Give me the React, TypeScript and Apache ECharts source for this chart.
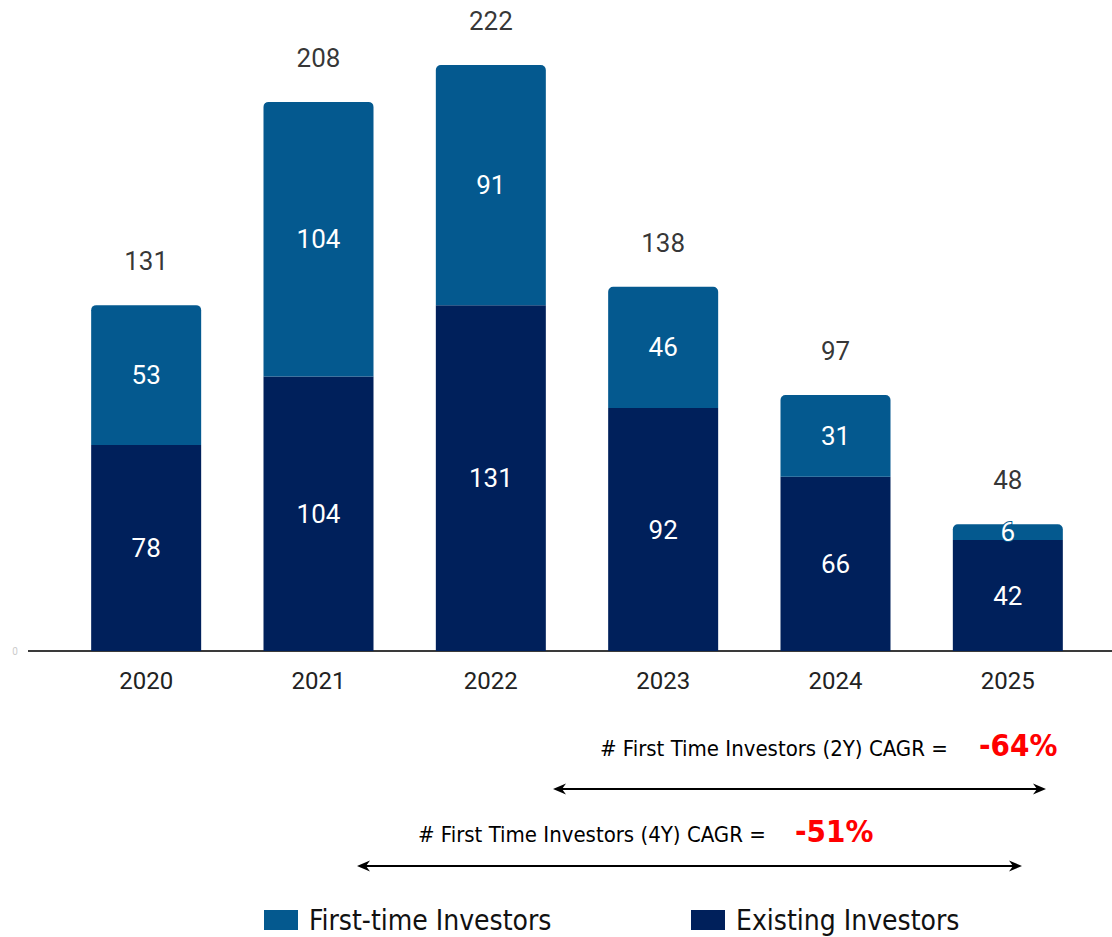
import React, { useEffect, useRef } from "react";
import * as echarts from "echarts";

const categories = ["2020", "2021", "2022", "2023", "2024", "2025"];
const existingInvestors = [78, 104, 131, 92, 66, 42];
const firstTimeInvestors = [53, 104, 91, 46, 31, 6];
const totals = [131, 208, 222, 138, 97, 48];
const seriesNames = ["First-time Investors", "Existing Investors"];
const cagr2Label = "# First Time Investors (2Y) CAGR =";
const cagr2Value = "-64%";
const cagr4Label = "# First Time Investors (4Y) CAGR =";
const cagr4Value = "-51%";

const COLOR_FIRST = "#04598F";
const COLOR_EXIST = "#00205B";
const NARROW = "'Liberation Sans Narrow', 'DejaVu Sans Condensed', 'Noto Sans', sans-serif";

function arrow(x1: number, x2: number, y: number) {
  const h = 13, w = 5.5, notch = 4;
  return [
    { type: "line", shape: { x1: x1 + 4, y1: y, x2: x2 - 4, y2: y }, style: { stroke: "#000", lineWidth: 2 } },
    {
      type: "polygon",
      shape: { points: [[x1, y], [x1 + h, y - w], [x1 + h - notch, y], [x1 + h, y + w]] },
      style: { fill: "#000" },
    },
    {
      type: "polygon",
      shape: { points: [[x2, y], [x2 - h, y - w], [x2 - h + notch, y], [x2 - h, y + w]] },
      style: { fill: "#000" },
    },
  ];
}

export default function App() {
  const ref = useRef<HTMLDivElement>(null);
  useEffect(() => {
    if (!ref.current) return;
    const chart = echarts.init(ref.current, null, { renderer: "svg" });
    const insideLabel = (border: string) => ({
      show: true,
      position: "inside",
      color: "#fff",
      fontSize: 26,
      fontFamily: "Roboto, sans-serif",
      textBorderColor: border,
      textBorderWidth: 2,
    });
    chart.setOption({
      animation: false,
      backgroundColor: "#fff",
      grid: { left: 60, right: 18, top: 17.4, bottom: 286, containLabel: false },
      xAxis: {
        type: "category",
        data: categories,
        axisLine: { show: false },
        axisTick: { show: false },
        axisLabel: { color: "#222", fontSize: 24, fontFamily: "Roboto, sans-serif", margin: 18 },
      },
      yAxis: {
        type: "value",
        min: 0,
        max: 240,
        show: false,
        splitLine: { show: false },
      },
      legend: [
        {
          data: [seriesNames[0]],
          left: 264,
          top: 906,
          padding: 0,
          itemWidth: 34,
          itemHeight: 20,
          icon: "rect",
          textStyle: { fontSize: 28, color: "#111", fontFamily: NARROW, padding: [0, 0, 0, 6] },
        },
        {
          data: [seriesNames[1]],
          left: 691,
          top: 906,
          padding: 0,
          itemWidth: 34,
          itemHeight: 20,
          icon: "rect",
          textStyle: { fontSize: 28, color: "#111", fontFamily: NARROW, padding: [0, 0, 0, 6] },
        },
      ],
      series: [
        {
          name: seriesNames[1],
          type: "bar",
          stack: "total",
          barWidth: 110,
          data: existingInvestors,
          itemStyle: { color: COLOR_EXIST },
          label: insideLabel(COLOR_EXIST),
        },
        {
          name: seriesNames[0],
          type: "bar",
          stack: "total",
          barWidth: 110,
          data: firstTimeInvestors,
          itemStyle: { color: COLOR_FIRST, borderRadius: [5, 5, 0, 0] },
          label: insideLabel(COLOR_FIRST),
        },
        {
          name: "Total",
          type: "scatter",
          symbolSize: 0,
          silent: true,
          data: totals,
          label: {
            show: true,
            position: "inside",
            offset: [0, -44],
            color: "#000",
            fontSize: 26,
            fontWeight: "normal",
            fontFamily: "Roboto, sans-serif",
            textBorderColor: "#fff",
            textBorderWidth: 3,
          },
        },
      ],
      graphic: [
        { type: "line", shape: { x1: 28, y1: 651, x2: 1112, y2: 651 }, style: { stroke: "#3a3a3a", lineWidth: 2 } },
        {
          type: "text",
          x: 15,
          y: 651,
          style: { text: "0", fill: "#ccc", fontSize: 10, align: "center", verticalAlign: "middle", fontFamily: "Roboto, sans-serif" },
        },
        {
          type: "text",
          x: 600,
          y: 748,
          style: { text: cagr2Label, fill: "#000", fontSize: 22, fontFamily: NARROW, align: "left", verticalAlign: "middle" },
        },
        {
          type: "text",
          x: 979,
          y: 745,
          style: { text: cagr2Value, fill: "#FF0000", fontSize: 31, fontWeight: "bold", fontFamily: NARROW, align: "left", verticalAlign: "middle" },
        },
        ...arrow(553, 1046, 789),
        {
          type: "text",
          x: 418,
          y: 834,
          style: { text: cagr4Label, fill: "#000", fontSize: 22, fontFamily: NARROW, align: "left", verticalAlign: "middle" },
        },
        {
          type: "text",
          x: 795,
          y: 831,
          style: { text: cagr4Value, fill: "#FF0000", fontSize: 31, fontWeight: "bold", fontFamily: NARROW, align: "left", verticalAlign: "middle" },
        },
        ...arrow(357, 1022, 866),
      ],
    });
    return () => chart.dispose();
  }, []);
  return <div ref={ref} style={{ position: "fixed", left: 0, top: 0, width: 1112, height: 937 }} />;
}
